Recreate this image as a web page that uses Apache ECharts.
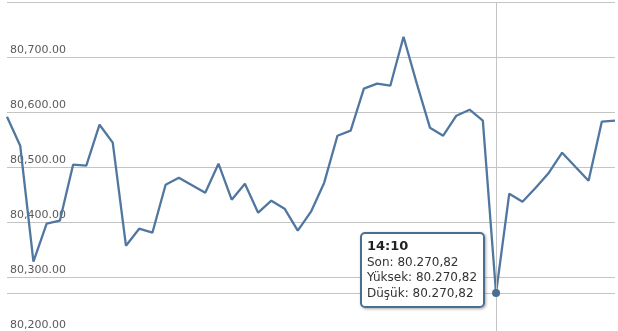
<!DOCTYPE html>
<html>
<head>
<meta charset="utf-8">
<style>
html,body{margin:0;padding:0;background:#fff;}
#chart{width:618px;height:331px;}
</style>
<script src="https://cdn.jsdelivr.net/npm/echarts@6/dist/echarts.min.js"></script>
</head>
<body>
<div id="chart"></div>
<script>
const categories = ['11:05','11:10','11:15','11:20','11:25','11:30','11:35','11:40','11:45','11:50','11:55','12:00','12:05','12:10','12:15','12:20','12:25','12:30','12:35','12:40','12:45','12:50','12:55','13:00','13:05','13:10','13:15','13:20','13:25','13:30','13:35','13:40','13:45','13:50','13:55','14:00','14:05','14:10','14:15','14:20','14:25','14:30','14:35','14:40','14:45','14:50','14:55'];
const values = [80591.5,80538.7,80327.8,80396.9,80402.4,80504.2,80502.4,80576.9,80544.2,80356.9,80387.8,80380.5,80467.8,80480.5,80467.0,80453.3,80506.0,80440.5,80469.6,80416.9,80438.7,80424.2,80384.2,80418.7,80471.5,80556.9,80566.0,80642.4,80651.5,80647.8,80736.9,80652.0,80571.5,80556.9,80593.3,80604.2,80584.2,80270.82,80451.5,80436.9,80462.4,80489.6,80526.0,80500.5,80475.1,80582.4,80584.2];
const yTicks = [80200,80300,80400,80500,80600,80700,80800];
const tooltipIndex = 37;

const lineColor = '#4a6d92';

function fmtEN(v){
  const s = v.toFixed(2).split('.');
  return s[0].replace(/\B(?=(\d{3})+(?!\d))/g, ',') + '.' + s[1];
}
function fmtTR(v){
  const s = v.toFixed(2).split('.');
  return s[0].replace(/\B(?=(\d{3})+(?!\d))/g, '.') + ',' + s[1];
}

const chart = echarts.init(document.getElementById('chart'), null, {renderer:'canvas'});
const option = {
  animation: false,
  grid: {left: 7, right: 3, top: 2, height: 330, outerBoundsMode: 'none', containLabel: false},
  xAxis: {
    type: 'category',
    data: categories,
    boundaryGap: false,
    axisLine: {show: false},
    axisTick: {show: false},
    axisLabel: {show: false},
    splitLine: {show: false}
  },
  yAxis: {
    type: 'value',
    min: yTicks[0],
    max: yTicks[yTicks.length-1],
    interval: 100,
    axisLine: {show: false},
    axisTick: {show: false},
    axisLabel: {
      inside: true,
      margin: 3,
      showMaxLabel: false,
      verticalAlign: 'bottom',
      lineHeight: 12,
      padding: [0,0,1,0],
      color: '#5a5a5a',
      fontFamily: 'DejaVu Sans',
      fontSize: 11,
      formatter: v => fmtEN(v)
    },
    splitLine: {show: true, lineStyle: {color: '#c4c4c4', width: 1}}
  },
  tooltip: {
    trigger: 'axis',
    triggerOn: 'none',
    alwaysShowContent: true,
    transitionDuration: 0,
    axisPointer: {type: 'none'},
    backgroundColor: 'rgba(255,255,255,0.92)',
    borderColor: lineColor,
    borderWidth: 2,
    borderRadius: 5,
    padding: [4, 6, 5, 5],
    extraCssText: 'box-shadow:1px 1px 3px rgba(0,0,0,0.35);line-height:15.5px;',
    textStyle: {fontFamily: 'DejaVu Sans', fontSize: 12, color: '#333'},
    formatter: function(ps){
      const p = Array.isArray(ps) ? ps[0] : ps;
      const v = values[p.dataIndex];
      return '<b style="font-size:13px;color:#222">' + categories[p.dataIndex] + '</b><br/>' +
        'Son: ' + fmtTR(v) + '<br/>' +
        'Yüksek: ' + fmtTR(v) + '<br/>' +
        'Düşük: ' + fmtTR(v);
    },
    position: function(point, params, dom, rect, size){
      const pt = chart.convertToPixel({seriesIndex: 0}, [tooltipIndex, values[tooltipIndex]]);
      return [pt[0] - size.contentSize[0] - 11, pt[1] - size.contentSize[1] + 15];
    }
  },
  series: [{
    type: 'line',
    data: values,
    showSymbol: false,
    symbol: 'circle',
    lineStyle: {color: lineColor, width: 2.3},
    itemStyle: {color: lineColor},
    markLine: {
      silent: true,
      symbol: ['none','none'],
      label: {show: false},
      lineStyle: {color: '#c4c4c4', type: 'solid', width: 1},
      emphasis: {disabled: true},
      data: [
        {xAxis: categories[tooltipIndex]},
        {yAxis: values[tooltipIndex]}
      ]
    },
    markPoint: {
      silent: true,
      symbol: 'circle',
      symbolSize: 8,
      label: {show: false},
      itemStyle: {color: lineColor},
      data: [{coord: [categories[tooltipIndex], values[tooltipIndex]]}]
    }
  }]
};
chart.setOption(option);
chart.dispatchAction({type: 'showTip', seriesIndex: 0, dataIndex: tooltipIndex});
setTimeout(function(){
  chart.dispatchAction({type: 'showTip', seriesIndex: 0, dataIndex: tooltipIndex});
}, 50);
</script>
</body>
</html>
